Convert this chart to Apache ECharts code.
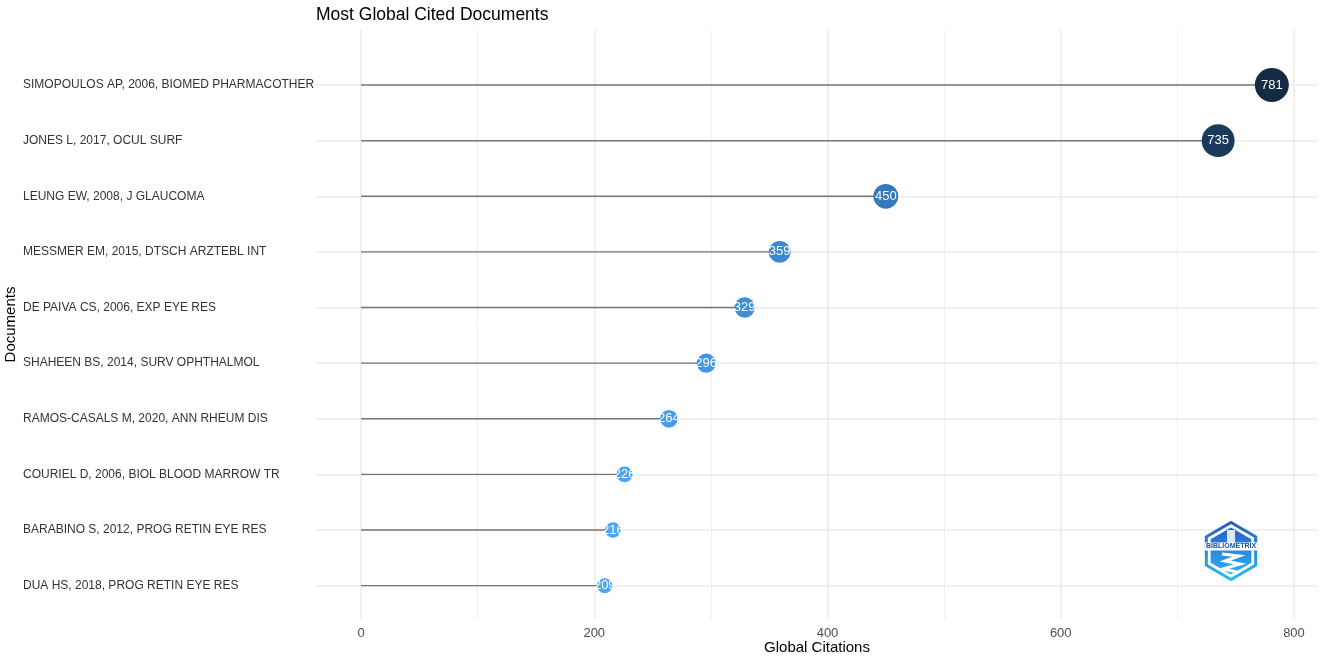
<!DOCTYPE html>
<html>
<head>
<meta charset="utf-8">
<script src="https://cdn.jsdelivr.net/npm/echarts@6/dist/echarts.min.js"></script>
<style>
html,body{margin:0;padding:0;background:#fff;}
#chart{width:1325px;height:656px;}
</style>
</head>
<body>
<div id="chart"></div>
<script>
// ---- data (top to bottom as shown) ----
const documents = [
  "SIMOPOULOS AP, 2006, BIOMED PHARMACOTHER",
  "JONES L, 2017, OCUL SURF",
  "LEUNG EW, 2008, J GLAUCOMA",
  "MESSMER EM, 2015, DTSCH ARZTEBL INT",
  "DE PAIVA CS, 2006, EXP EYE RES",
  "SHAHEEN BS, 2014, SURV OPHTHALMOL",
  "RAMOS-CASALS M, 2020, ANN RHEUM DIS",
  "COURIEL D, 2006, BIOL BLOOD MARROW TR",
  "BARABINO S, 2012, PROG RETIN EYE RES",
  "DUA HS, 2018, PROG RETIN EYE RES"
];
const citations = [781, 735, 450, 359, 329, 296, 264, 226, 216, 209];
const xTicks = [0, 200, 400, 600, 800];
const xMinorGrid = [100, 300, 500, 700];

const vMin = Math.min(...citations), vMax = Math.max(...citations);
const docIdx = documents.map((d, i) => i);

const chart = echarts.init(document.getElementById('chart'), null, {renderer: 'canvas'});

const FONT = 'Liberation Sans, Arial, sans-serif';

// hexagon helper for the logo
function hex(cx, cy, r) {
  const pts = [];
  for (let k = 0; k < 6; k++) {
    const a = k * Math.PI / 3;
    pts.push([cx + r * Math.sin(a), cy - r * Math.cos(a)]);
  }
  return pts;
}
const LX = 1231, LY = 551;

const option = {
  backgroundColor: '#ffffff',
  animation: false,
  title: {
    text: 'Most Global Cited Documents',
    left: 316, top: 6, padding: 0,
    textStyle: {fontFamily: FONT, fontSize: 17.5, fontWeight: 'normal', color: '#000'}
  },
  grid: {left: 316, right: 7, top: 30, bottom: 37, containLabel: false, outerBoundsMode: 'none'},
  xAxis: {
    type: 'value', min: -38.6, max: 820.6,
    name: 'Global Citations', nameLocation: 'middle', nameGap: 21, nameMoveOverlap: false,
    nameTextStyle: {fontFamily: FONT, fontSize: 15, color: '#000'},
    axisLine: {show: false}, axisTick: {show: false}, splitLine: {show: false},
    axisLabel: {customValues: xTicks, fontFamily: FONT, fontSize: 13, color: '#4D4D4D', margin: 8}
  },
  yAxis: {
    type: 'value', inverse: true, min: -0.99, max: 9.6,
    name: 'Documents', nameLocation: 'middle', nameGap: 298, nameRotate: 90, nameMoveOverlap: false,
    nameTextStyle: {fontFamily: FONT, fontSize: 15, color: '#000'},
    axisLine: {show: false}, axisTick: {show: false}, splitLine: {show: false},
    axisLabel: {
      customValues: docIdx, align: 'left', margin: 293,
      fontFamily: FONT, fontSize: 12, color: '#333',
      formatter: v => documents[Math.round(v)] || ''
    }
  },
  series: [
    {
      type: 'scatter', data: [], silent: true, z: 0,
      markLine: {
        silent: true, symbol: 'none', animation: false, z: 0,
        label: {show: false},
        data: [
          ...xTicks.map(v => ({xAxis: v, lineStyle: {color: '#EBEBEB', width: 1.6, type: 'solid'}})),
          ...xMinorGrid.map(v => ({xAxis: v, lineStyle: {color: '#EBEBEB', width: 0.8, type: 'solid'}})),
          ...docIdx.map(i => ({yAxis: i, lineStyle: {color: '#EBEBEB', width: 1.6, type: 'solid'}}))
        ]
      }
    },
    {
      type: 'custom', z: 10, silent: true,
      data: citations.map((v, i) => [v, i]),
      renderItem: function (params, api) {
        const p0 = api.coord([0, api.value(1)]);
        const p1 = api.coord([api.value(0), api.value(1)]);
        return {
          type: 'line',
          shape: {x1: p0[0], y1: p0[1], x2: p1[0], y2: p1[1]},
          style: {stroke: '#777777', lineWidth: 1.4}
        };
      }
    },
    {
      type: 'scatter', z: 11,
      data: citations.map((v, i) => [v, i]),
      itemStyle: {opacity: 1},
      symbolSize: function (d) {
        return Math.sqrt(225 + 931 * (d[0] - vMin) / (vMax - vMin));
      },
      label: {
        show: true, position: 'inside', color: '#fff',
        fontFamily: FONT, fontSize: 13,
        formatter: p => String(p.value[0])
      }
    }
  ],
  visualMap: {
    show: false, type: 'continuous', seriesIndex: 2, dimension: 0,
    min: vMin, max: vMax,
    inRange: {color: ['#4FA8F5', '#3580C6', '#2A68A3', '#132B43'], opacity: 1}
  },
  graphic: [
    {
      type: 'polygon', z: 10,
      shape: {points: hex(LX, LY, 28.5)},
      style: {
        fill: 'none', lineWidth: 3,
        stroke: {type: 'linear', x: 0, y: 0, x2: 0, y2: 1,
          colorStops: [{offset: 0, color: '#2456C6'}, {offset: 1, color: '#25C0F7'}]}
      }
    },
    {
      type: 'polygon', z: 10,
      shape: {points: hex(LX, LY, 23.5)},
      style: {
        fill: {type: 'linear', x: 0, y: 0, x2: 0, y2: 1,
          colorStops: [{offset: 0, color: '#2A5FCC'}, {offset: 1, color: '#2BB3F5'}]}
      }
    },
    {
      type: 'rect', z: 11,
      shape: {x: LX - 4, y: LY - 21, width: 8, height: 14},
      style: {fill: '#ffffff', opacity: 0.85}
    },
    {
      type: 'rect', z: 11,
      shape: {x: LX - 26, y: LY - 8.5, width: 52, height: 8},
      style: {fill: '#ffffff'}
    },
    {
      type: 'text', z: 12,
      style: {
        text: 'BIBLIOMETRIX', x: LX, y: LY - 4.5, align: 'center', verticalAlign: 'middle',
        fontFamily: FONT, fontSize: 7, fontWeight: 'bold', fill: '#1E4E9C'
      }
    },
    {
      type: 'polyline', z: 11,
      shape: {points: [[LX - 9, LY + 3], [LX + 8, LY + 5], [LX - 6, LY + 10], [LX + 9, LY + 13], [LX - 8, LY + 18], [LX + 6, LY + 21]]},
      style: {stroke: '#ffffff', lineWidth: 3, fill: 'none'}
    }
  ]
};
chart.setOption(option);
</script>
</body>
</html>
